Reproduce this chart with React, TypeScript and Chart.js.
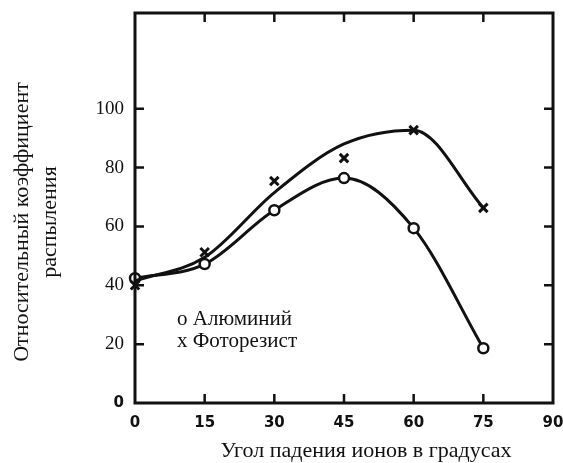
import React, { useEffect, useRef } from "react";
import { Chart, registerables } from "chart.js";

Chart.register(...registerables);

const angles = [0, 15, 30, 45, 60, 75];
const aluminum = [42.4, 47.2, 65.5, 76.4, 59.4, 18.6];
const photoresistMarks = [40, 51.2, 75.4, 83.2, 92.7, 66.3];
const photoresistCurve = [41.5, 49.5, 71.5, 88, 92.7, 66.3];
const xTicks = [0, 15, 30, 45, 60, 75, 90];
const yTicks = [0, 20, 40, 60, 80, 100];

const xTitle = "Угол падения ионов в градусах";
const yTitle1 = "Относительный коэффициент";
const yTitle2 = "распыления";
const legend1 = "о Алюминий";
const legend2 = "х Фоторезист";

const INK = "#111111";
const SERIF = "'Liberation Serif', 'DejaVu Serif', serif";
const SANS = "'DejaVu Sans', sans-serif";

const framePlugin = {
  id: "frame",
  afterDatasetsDraw(chart: any) {
    const { ctx, chartArea } = chart;
    const { left, right, top, bottom } = chartArea;
    const xs = chart.scales.x;
    const ys = chart.scales.y;
    ctx.save();
    ctx.strokeStyle = INK;
    ctx.lineWidth = 3;
    ctx.strokeRect(left, top, right - left, bottom - top);
    ctx.lineWidth = 2.5;
    const tl = 9;
    ctx.beginPath();
    for (const v of xTicks) {
      if (v === 0 || v === 90) continue;
      const px = xs.getPixelForValue(v);
      ctx.moveTo(px, bottom);
      ctx.lineTo(px, bottom - tl);
      ctx.moveTo(px, top);
      ctx.lineTo(px, top + tl);
    }
    for (const v of yTicks) {
      if (v === 0) continue;
      const py = ys.getPixelForValue(v);
      ctx.moveTo(left, py);
      ctx.lineTo(left + tl, py);
      ctx.moveTo(right, py);
      ctx.lineTo(right - tl, py);
    }
    ctx.stroke();
    ctx.restore();
  },
  afterDraw(chart: any) {
    const { ctx } = chart;
    ctx.save();
    ctx.fillStyle = INK;
    ctx.font = `22px ${SERIF}`;
    ctx.textAlign = "center";
    ctx.textBaseline = "middle";
    ctx.fillText(xTitle, 366, 451);
    ctx.save();
    ctx.translate(22, 222);
    ctx.rotate(-Math.PI / 2);
    ctx.fillText(yTitle1, 0, 0);
    ctx.restore();
    ctx.save();
    ctx.translate(50, 222);
    ctx.rotate(-Math.PI / 2);
    ctx.fillText(yTitle2, 0, 0);
    ctx.restore();
    ctx.font = `21px ${SERIF}`;
    ctx.textAlign = "left";
    ctx.textBaseline = "alphabetic";
    ctx.fillText(legend1, 177, 325);
    ctx.fillText(legend2, 177, 347);
    ctx.restore();
  },
};

const zeroPad = (s: any) => {
  s.paddingTop = 0;
  s.paddingBottom = 0;
  s.paddingLeft = 0;
  s.paddingRight = 0;
};

export default function App() {
  const ref = useRef<HTMLCanvasElement | null>(null);
  useEffect(() => {
    if (!ref.current) return;
    const toXY = (ys: number[]) => angles.map((a, i) => ({ x: a, y: ys[i] }));
    const chart = new Chart(ref.current, {
      type: "line",
      data: {
        datasets: [
          {
            label: "Photoresist curve",
            data: toXY(photoresistCurve),
            borderColor: INK,
            borderWidth: 3,
            pointRadius: 0,
            cubicInterpolationMode: "monotone",
            fill: false,
            clip: false as any,
          },
          {
            label: "Фоторезист",
            data: toXY(photoresistMarks),
            showLine: false,
            pointStyle: "crossRot",
            pointRadius: 6,
            pointBorderWidth: 3,
            pointBorderColor: INK,
            borderColor: INK,
            clip: false as any,
          },
          {
            label: "Алюминий",
            data: toXY(aluminum),
            borderColor: INK,
            borderWidth: 3,
            cubicInterpolationMode: "monotone",
            pointStyle: "circle",
            pointRadius: 5,
            pointBorderWidth: 2.5,
            pointBackgroundColor: "#ffffff",
            pointBorderColor: INK,
            fill: false,
            clip: false as any,
          },
        ],
      },
      options: {
        animation: false,
        responsive: false,
        layout: { padding: { top: 13, right: 10, left: 0, bottom: 0 } },
        plugins: {
          legend: { display: false },
          tooltip: { enabled: false },
        },
        scales: {
          x: {
            type: "linear",
            min: 0,
            max: 90,
            grid: { display: false, drawTicks: false },
            border: { display: false },
            afterBuildTicks: (s: any) => {
              s.ticks = xTicks.map((v) => ({ value: v }));
            },
            ticks: {
              padding: 11,
              color: INK,
              font: { family: SANS, weight: "bold", size: 15 },
            },
            afterFit: (s: any) => {
              s.height = 60;
              zeroPad(s);
            },
          },
          y: {
            type: "linear",
            min: 0,
            max: 132.5,
            grid: { display: false, drawTicks: false },
            border: { display: false },
            afterBuildTicks: (s: any) => {
              s.ticks = yTicks.map((v) => ({ value: v }));
            },
            ticks: {
              padding: 11,
              color: INK,
              font: (c: any) =>
                c.tick && c.tick.value === 0
                  ? { family: SANS, weight: "bold", size: 15 }
                  : { family: SERIF, size: 19 },
            },
            afterFit: (s: any) => {
              s.width = 135;
              zeroPad(s);
            },
          },
        },
      },
      plugins: [framePlugin],
    });
    return () => chart.destroy();
  }, []);
  return (
    <div style={{ position: "absolute", left: 0, top: 0, width: 563, height: 463, background: "#fff" }}>
      <canvas ref={ref} width={563} height={463} style={{ width: 563, height: 463, display: "block" }} />
    </div>
  );
}
